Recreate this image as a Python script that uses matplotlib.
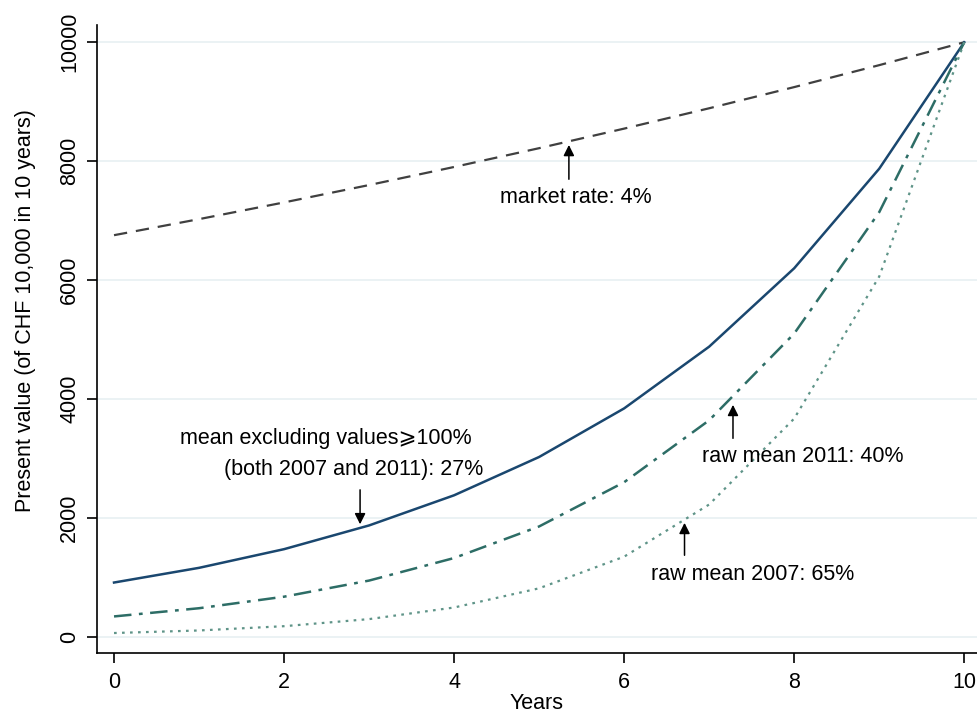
import matplotlib.pyplot as plt
import numpy as np

plt.rcParams['font.family'] = ['Liberation Sans', 'DejaVu Sans']

years = [0, 1, 2, 3, 4, 5, 6, 7, 8, 9, 10]
market_4 = [6756, 7026, 7307, 7599, 7903, 8219, 8548, 8890, 9246, 9615, 10000]
excl_27 = [916, 1163, 1477, 1876, 2383, 3027, 3844, 4882, 6200, 7874, 10000]
raw_2011_40 = [346, 484, 678, 949, 1328, 1859, 2603, 3644, 5102, 7143, 10000]
raw_2007_65 = [67, 110, 182, 301, 496, 819, 1351, 2228, 3673, 6061, 10000]

fig = plt.figure(figsize=(9.77, 7.15), dpi=100)
ax = fig.add_axes([0.0993, 0.0867, 0.9007, 0.878])

ax.plot(years, market_4, color='#404040', lw=1.6, dashes=(6, 4))
ax.plot(years, excl_27, color='#1a476f', lw=1.8)
ax.plot(years, raw_2011_40, color='#2d6d66', lw=1.8, dashes=(7, 3, 1.5, 3))
ax.plot(years, raw_2007_65, color='#5f9488', lw=1.6, dashes=(1.2, 2.4))

ax.set_xlim(-0.2, 10.15)
ax.set_ylim(-269, 10286)
ax.set_xticks([0, 2, 4, 6, 8, 10])
ax.set_yticks([0, 2000, 4000, 6000, 8000, 10000])
ax.grid(axis='y', color='#e8f0f2', lw=1.2)
ax.set_axisbelow(True)
for s in ['top', 'right']:
    ax.spines[s].set_visible(False)
for s in ['left', 'bottom']:
    ax.spines[s].set_linewidth(1.2)
fs = 15.5
ax.tick_params(labelsize=fs, length=7, width=1.2)
ax.tick_params(axis='x', pad=6.5)
ax.tick_params(axis='y', pad=5)
plt.setp(ax.get_yticklabels(), rotation=90, va='center')
ax.set_xlabel('Years', fontsize=fs, labelpad=0)
ax.set_ylabel('Present value (of CHF 10,000 in 10 years)', fontsize=fs, labelpad=17, y=0.545)

arrow = dict(arrowstyle='-|>', color='black', lw=1.1, mutation_scale=16)
ax.annotate('', xy=(5.35, 8320), xytext=(5.35, 7650), arrowprops=arrow)
ax.text(4.54, 7395, 'market rate: 4%', fontsize=fs, va='center', ha='left')

ax.annotate('', xy=(2.894, 1849), xytext=(2.894, 2521), arrowprops=arrow)
ax.text(0.776, 3345, 'mean excluding values\u2a7e100%', fontsize=fs, va='center', ha='left')
ax.text(1.294, 2824, '(both 2007 and 2011): 27%', fontsize=fs, va='center', ha='left')

ax.annotate('', xy=(7.28, 3950), xytext=(7.28, 3294), arrowprops=arrow)
ax.text(6.92, 3042, 'raw mean 2011: 40%', fontsize=fs, va='center', ha='left')

ax.annotate('', xy=(6.71, 1966), xytext=(6.71, 1328), arrowprops=arrow)
ax.text(6.32, 1059, 'raw mean 2007: 65%', fontsize=fs, va='center', ha='left')

fig.savefig('out.png', dpi=100)
